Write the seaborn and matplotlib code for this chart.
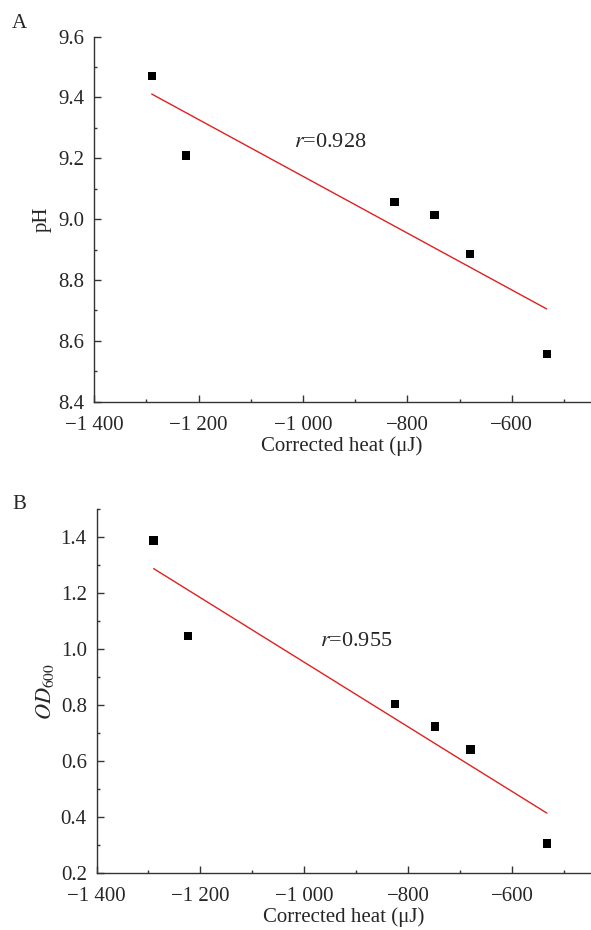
import numpy as np
import pandas as pd
import seaborn as sns
import matplotlib.pyplot as plt
from matplotlib.ticker import MultipleLocator, FuncFormatter

# values
heat = [-1290, -1224, -825, -748, -680, -533]
ph = [9.470, 9.209, 9.057, 9.014, 8.885, 8.556]
od600 = [1.388, 1.047, 0.804, 0.724, 0.642, 0.306]
r_ph = "0.928"
r_od = "0.955"

sns.set_style("ticks")
plt.rcParams['font.family'] = ['Liberation Serif', 'DejaVu Serif']
plt.rcParams['mathtext.fontset'] = 'stix'


def fmt_heat(v, pos):
    v = int(round(v))
    s = f"{abs(v):,}".replace(",", " ")
    return ("\u2212" + s) if v < 0 else s


def style_axis(ax, ylim, ymaj, ymin):
    ax.set_xlim(-1400, -450)
    ax.set_ylim(*ylim)
    ax.xaxis.set_major_locator(MultipleLocator(200))
    ax.xaxis.set_minor_locator(MultipleLocator(100))
    ax.yaxis.set_major_locator(MultipleLocator(ymaj))
    ax.yaxis.set_minor_locator(MultipleLocator(ymin))
    ax.xaxis.set_major_formatter(FuncFormatter(fmt_heat))
    ax.yaxis.set_major_formatter(FuncFormatter(lambda v, p: f"{v:.1f}"))
    ax.tick_params(which='major', direction='in', length=5, width=1, labelsize=15, color='#333333')
    ax.tick_params(which='minor', direction='in', length=2.5, width=1, color='#333333')
    ax.tick_params(axis='x', which='major', pad=10)
    ax.tick_params(axis='y', which='major', pad=7)
    for side in ['left', 'bottom']:
        ax.spines[side].set_color('#333333')
        ax.spines[side].set_linewidth(1)
    sns.despine(ax=ax)
    ax.set_xlabel('Corrected heat (\u03bcJ)', fontsize=15, labelpad=1)


fig = plt.figure(figsize=(5.91, 9.30), dpi=100)
ax1 = fig.add_axes([0.1596, 0.5681, 0.8387, 0.3925])
ax2 = fig.add_axes([0.1633, 0.0610, 0.8350, 0.3917])

df = pd.DataFrame({'heat': heat, 'ph': ph, 'od600': od600})

scatter_kw = dict(s=36, color='black', edgecolor='none', alpha=1)
line_kw = dict(color='#e02020', linewidth=1.0)

sns.regplot(data=df, x='heat', y='ph', ax=ax1, ci=None, marker='s',
            scatter_kws=scatter_kw, line_kws=line_kw)
style_axis(ax1, (8.4, 9.6), 0.2, 0.1)
ax1.set_ylabel('pH', fontsize=15, labelpad=5)
ax1.text(-1018, 9.252, r'$r$=' + r_ph, fontsize=16, va='center', ha='left')

sns.regplot(data=df, x='heat', y='od600', ax=ax2, ci=None, marker='s',
            scatter_kws=scatter_kw, line_kws=line_kw)
style_axis(ax2, (0.2, 1.5), 0.2, 0.1)
ax2.set_ylabel(r'$OD_{\mathrm{600}}$', fontsize=16, labelpad=3)
ax2.text(-970, 1.026, r'$r$=' + r_od, fontsize=16, va='center', ha='left')

fig.text(12 / 591, 1 - 24 / 930, 'A', fontsize=15, va='center', ha='left')
fig.text(12 / 591, 1 - 504 / 930, 'B', fontsize=15, va='center', ha='left')

fig.savefig('out.png', dpi=100)
